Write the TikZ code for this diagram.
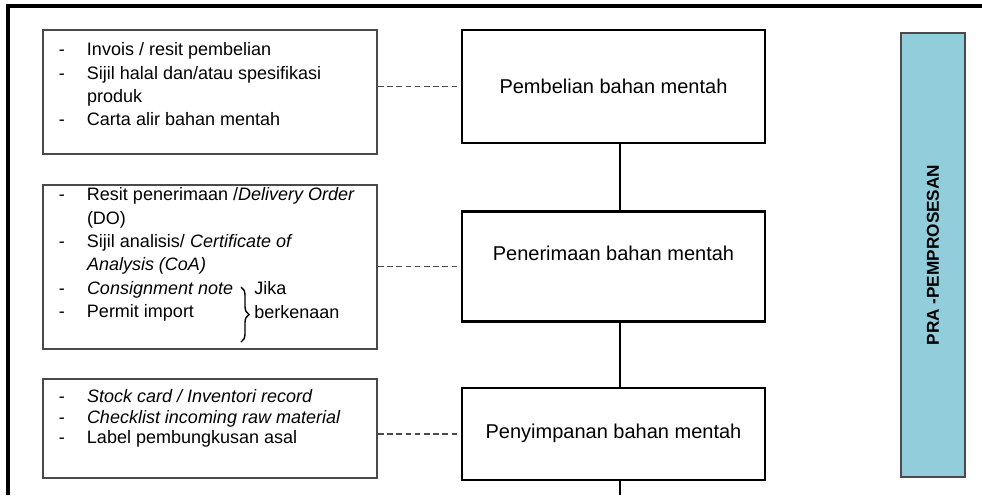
\documentclass[tikz,border=0pt]{standalone}
\usepackage{fontspec}
\setmainfont{Liberation Sans}
\usepackage{tikz}
\usetikzlibrary{positioning, decorations.pathreplacing}

\definecolor{birufasa}{HTML}{92CDDC}
\definecolor{kelabu}{HTML}{4A4A4A}

\begin{document}
\begin{tikzpicture}[
        x=0.5pt, y=-0.5pt,
        node distance=33pt,
        proses/.style={draw, line width=1.2pt, minimum width=151.5pt, inner sep=0pt, font=\fontsize{10}{12}\selectfont},
        dokumen/.style={draw=kelabu, line width=1pt, anchor=north west, inner xsep=8pt, inner ysep=0pt, font=\fontsize{9}{11.7}\selectfont},
        fasa/.style={draw=kelabu, line width=0.9pt, fill=birufasa, rotate=90, minimum width=222pt, minimum height=32pt, font=\fontsize{8.6}{10}\selectfont\bfseries},
        catatan/.style={anchor=west, align=left, inner sep=0pt, font=\fontsize{9}{11.7}\selectfont},
        garis/.style={line width=1pt},
        putus/.style={draw=kelabu, line width=0.9pt, dash pattern=on 2.8pt off 1.8pt},
        kurung/.style={decorate, decoration={brace, amplitude=4pt}, line width=0.7pt},
        bingkai/.style={line width=1.6pt}
    ]
    \useasboundingbox (0,0) rectangle (982,495);

    % bingkai luar
    \coordinate (bingkai bawah) at (8,495);
    \coordinate (bingkai kanan) at (982,6);
    \draw[bingkai] (bingkai bawah) |- (bingkai kanan);

    % langkah utama
    \node[proses, minimum height=56.5pt] (beli) at (613.5,86.5) {Pembelian bahan mentah};
    \node[proses, minimum height=55pt, text depth=13pt, below=of beli] (terima) {Penerimaan bahan mentah};
    \node[proses, minimum height=46pt, below=32pt of terima] (simpan) {Penyimpanan bahan mentah};

    % dokumen sokongan
    \node[dokumen, text height=12.85pt, text depth=49.15pt] (dok1) at (42,29) {\makebox[151pt][l]{\begin{tabular}[t]{@{}p{14pt}@{}l@{}}
        - & Invois / resit pembelian\\
        - & Sijil halal dan/atau spesifikasi\\
          & produk\\
        - & Carta alir bahan mentah
    \end{tabular}}};
    \node[dokumen, text height=7.85pt, text depth=74.15pt] (dok2) at (42,184) {\makebox[151pt][l]{\begin{tabular}[t]{@{}p{14pt}@{}l@{}}
        - & Resit penerimaan /\textit{Delivery Order}\\
          & (DO)\\
        - & Sijil analisis/ \textit{Certificate of}\\
          & \textit{Analysis (CoA)}\\
        - & \textit{Consignment note}\\
        - & Permit import
    \end{tabular}}};
    \node[dokumen, text height=11.85pt, text depth=37.65pt, font=\fontsize{9}{10.3}\selectfont] (dok3) at (42,378) {\makebox[151pt][l]{\begin{tabular}[t]{@{}p{14pt}@{}l@{}}
        - & \textit{Stock card / Inventori record}\\
        - & \textit{Checklist incoming raw material}\\
        - & Label pembungkusan asal
    \end{tabular}}};

    \coordinate (kurung atas) at (241,287);
    \coordinate (kurung bawah) at (241,342);
    \node[catatan] (jika) at (254,300) {Jika\\berkenaan};

    % fasa
    \node[fasa] (prapro) at (933,255) {PRA -PEMPROSESAN};

    \coordinate (hujung) at (620,495);

    \draw[putus] (dok1.east |- beli.west) -- (beli.west);
    \draw[putus] (dok2.east |- terima.west) -- (terima.west);
    \draw[putus] (dok3.east |- simpan.west) -- (simpan.west);
    \draw[garis] ([xshift=3.25pt]beli.south) -- ([xshift=3.25pt]terima.north);
    \draw[garis] ([xshift=3.25pt]terima.south) -- ([xshift=3.25pt]simpan.north);
    \draw[garis] ([xshift=3.25pt]simpan.south) -- (hujung);
    \draw[kurung] (kurung atas) -- (kurung bawah);
    \end{tikzpicture}
\end{document}
